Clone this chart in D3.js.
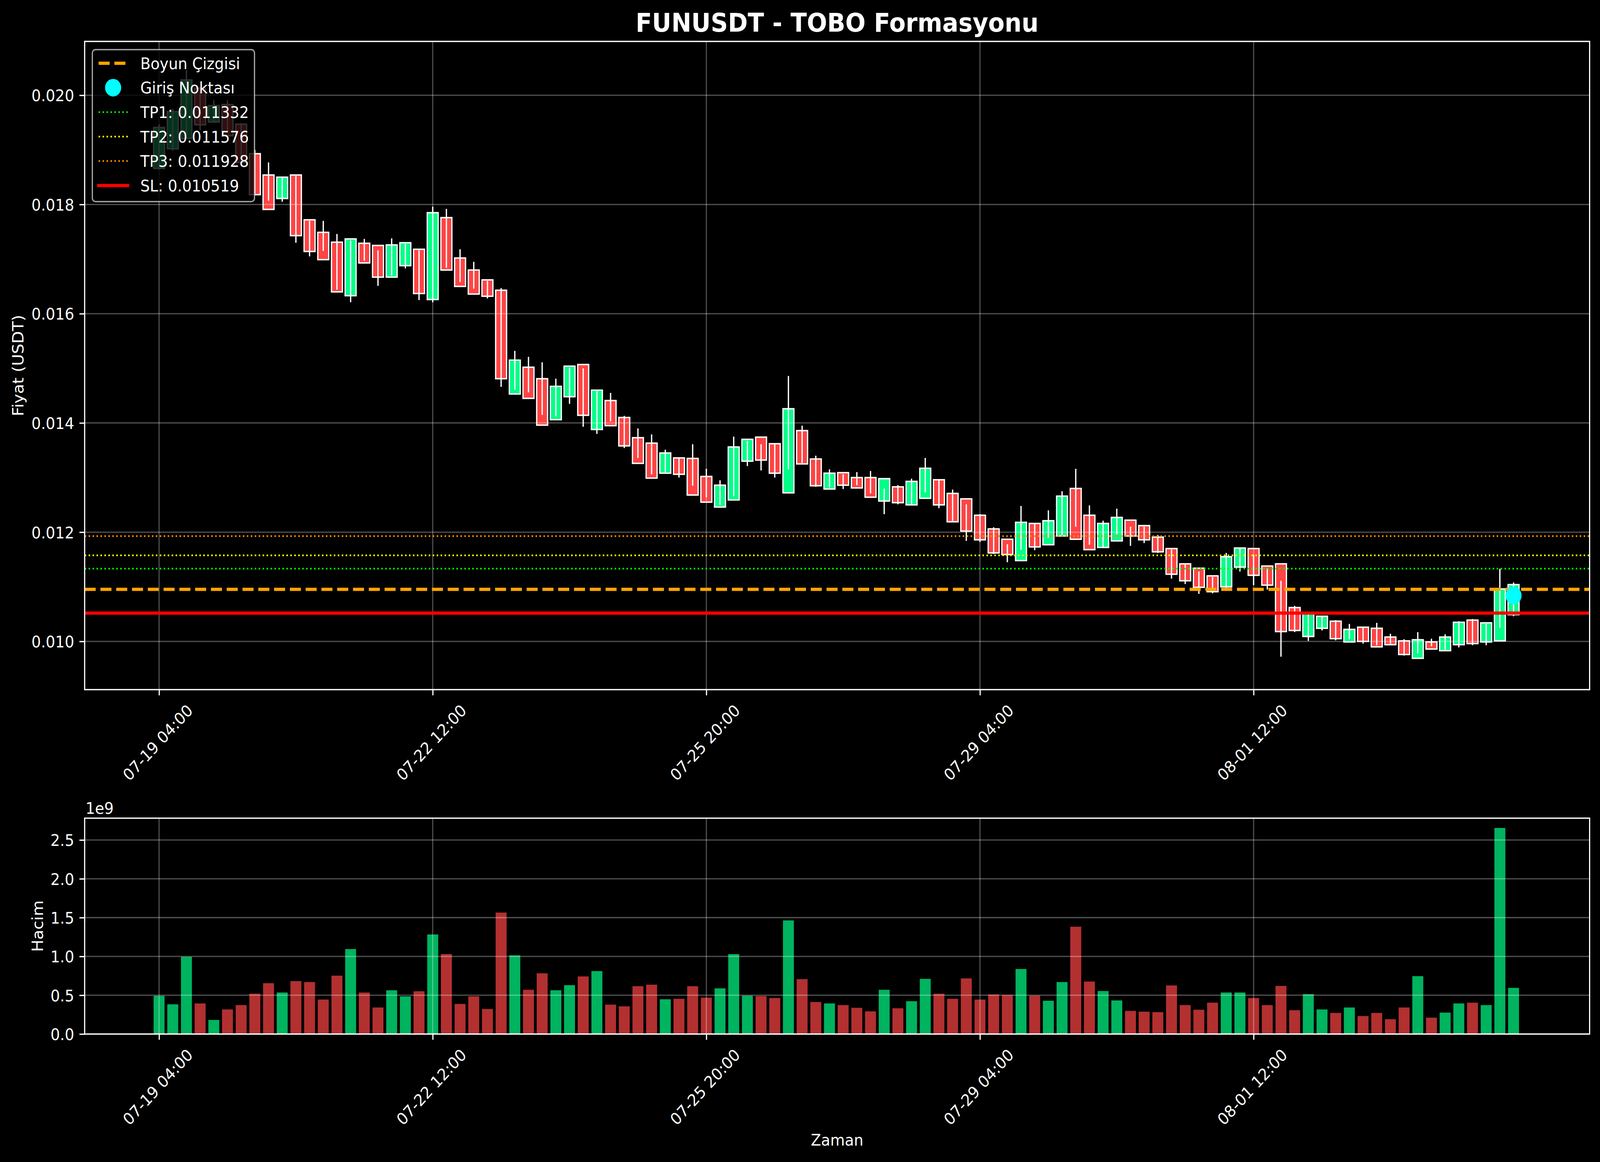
<!DOCTYPE html>
<html><head><meta charset="utf-8">
<script src="https://cdn.jsdelivr.net/npm/d3@7"></script>
<style>
html,body{margin:0;padding:0;background:#000;overflow:hidden;width:100%;height:100%;}
svg{display:block;width:100vw;height:100vh;}
text{font-family:"DejaVu Sans",sans-serif;fill:#fff;}
</style>
</head><body>
<svg id="chart" viewBox="0 0 4470 2974" preserveAspectRatio="none"></svg>
<script>
// ---------------- DATA ----------------
const startTime = "2025-07-19T04:00:00Z";
const intervalHours = 4;

const openP = [0.01866,0.01902,0.01921,0.02013,0.01951,0.01983,0.01947,0.01893,0.01854,0.01811,
0.01854,0.01772,0.01749,0.01731,0.01633,0.01729,0.01725,0.01667,0.01688,0.01718,
0.01626,0.01776,0.01702,0.01680,0.01662,0.01643,0.01453,0.01502,0.01481,0.01406,
0.01448,0.01507,0.01388,0.01441,0.01410,0.01373,0.01363,0.01308,0.01336,0.01335,
0.01302,0.01246,0.01259,0.01330,0.01374,0.01362,0.01272,0.01386,0.01334,0.01279,
0.01309,0.01300,0.01300,0.01257,0.01283,0.01250,0.01262,0.01296,0.01271,0.01261,
0.01231,0.01206,0.01187,0.01148,0.01216,0.01177,0.01193,0.01280,0.01231,0.01172,
0.01184,0.01222,0.01212,0.01191,0.01170,0.01142,0.01134,0.01120,0.01100,0.01136,
0.01170,0.01138,0.01142,0.01062,0.01009,0.01024,0.01037,0.00999,0.01026,0.01024,
0.01008,0.01001,0.00969,0.00999,0.00983,0.00994,0.01039,0.00999,0.01001,0.01049];

const highP = [0.01947,0.01975,0.02046,0.02013,0.01991,0.01991,0.01949,0.01900,0.01877,0.01848,
0.01852,0.01770,0.01770,0.01746,0.01734,0.01737,0.01716,0.01738,0.01728,0.01716,
0.01796,0.01792,0.01718,0.01695,0.01660,0.01647,0.01532,0.01521,0.01511,0.01481,
0.01501,0.01500,0.01458,0.01455,0.01413,0.01390,0.01379,0.01351,0.01336,0.01361,
0.01316,0.01295,0.01375,0.01367,0.01361,0.01361,0.01486,0.01395,0.01340,0.01315,
0.01306,0.01310,0.01312,0.01280,0.01286,0.01298,0.01336,0.01296,0.01278,0.01251,
0.01233,0.01209,0.01178,0.01248,0.01217,0.01240,0.01275,0.01316,0.01249,0.01221,
0.01243,0.01210,0.01210,0.01195,0.01168,0.01141,0.01128,0.01118,0.01162,0.01171,
0.01159,0.01134,0.01111,0.01065,0.01051,0.01046,0.01039,0.01032,0.01025,0.01034,
0.01014,0.01004,0.01017,0.01005,0.01013,0.01037,0.01041,0.01032,0.01133,0.01108];

const lowP = [0.01864,0.01898,0.01921,0.01936,0.01951,0.01931,0.01877,0.01820,0.01807,0.01805,
0.01730,0.01705,0.01715,0.01644,0.01621,0.01697,0.01651,0.01670,0.01683,0.01625,
0.01621,0.01684,0.01658,0.01646,0.01628,0.01466,0.01461,0.01456,0.01415,0.01412,
0.01435,0.01393,0.01380,0.01403,0.01354,0.01336,0.01306,0.01310,0.01300,0.01285,
0.01264,0.01250,0.01266,0.01321,0.01313,0.01300,0.01315,0.01327,0.01283,0.01282,
0.01279,0.01286,0.01271,0.01233,0.01251,0.01252,0.01273,0.01244,0.01221,0.01184,
0.01182,0.01160,0.01145,0.01168,0.01167,0.01190,0.01195,0.01210,0.01177,0.01171,
0.01196,0.01175,0.01180,0.01162,0.01115,0.01105,0.01087,0.01088,0.01098,0.01128,
0.01103,0.01095,0.00972,0.01017,0.01001,0.01020,0.01002,0.01004,0.00996,0.00993,
0.00996,0.00974,0.00978,0.00991,0.00985,0.00989,0.00993,0.00993,0.01025,0.01046];

const closeP = [0.01941,0.01970,0.02028,0.01946,0.01981,0.01926,0.01877,0.01818,0.01791,0.01850,
0.01743,0.01714,0.01699,0.01640,0.01737,0.01693,0.01667,0.01726,0.01730,0.01637,
0.01785,0.01680,0.01650,0.01636,0.01632,0.01481,0.01515,0.01445,0.01396,0.01467,
0.01504,0.01414,0.01460,0.01395,0.01358,0.01326,0.01299,0.01345,0.01306,0.01268,
0.01255,0.01286,0.01356,0.01370,0.01332,0.01308,0.01426,0.01325,0.01285,0.01308,
0.01286,0.01281,0.01264,0.01298,0.01254,0.01293,0.01317,0.01250,0.01219,0.01202,
0.01186,0.01162,0.01159,0.01218,0.01173,0.01221,0.01266,0.01187,0.01168,0.01216,
0.01227,0.01193,0.01186,0.01164,0.01123,0.01111,0.01099,0.01091,0.01155,0.01171,
0.01121,0.01103,0.01018,0.01020,0.01051,0.01046,0.01005,0.01022,0.01000,0.00990,
0.00994,0.00976,0.01003,0.00986,0.01008,0.01035,0.00996,0.01034,0.01096,0.01104];

const volume = [0.493e9,0.383e9,0.995e9,0.394e9,0.182e9,0.317e9,0.373e9,0.520e9,0.655e9,0.535e9,
0.682e9,0.670e9,0.444e9,0.752e9,1.095e9,0.535e9,0.342e9,0.564e9,0.485e9,0.551e9,
1.283e9,1.030e9,0.388e9,0.485e9,0.323e9,1.565e9,1.014e9,0.570e9,0.782e9,0.564e9,
0.630e9,0.742e9,0.811e9,0.379e9,0.357e9,0.616e9,0.636e9,0.448e9,0.454e9,0.616e9,
0.469e9,0.589e9,1.030e9,0.495e9,0.489e9,0.464e9,1.464e9,0.707e9,0.413e9,0.394e9,
0.373e9,0.338e9,0.292e9,0.570e9,0.332e9,0.423e9,0.711e9,0.520e9,0.454e9,0.717e9,
0.444e9,0.510e9,0.504e9,0.838e9,0.495e9,0.429e9,0.670e9,1.383e9,0.676e9,0.554e9,
0.433e9,0.298e9,0.288e9,0.282e9,0.626e9,0.373e9,0.313e9,0.404e9,0.535e9,0.535e9,
0.464e9,0.373e9,0.620e9,0.307e9,0.514e9,0.317e9,0.272e9,0.342e9,0.232e9,0.272e9,
0.191e9,0.342e9,0.746e9,0.211e9,0.276e9,0.394e9,0.404e9,0.373e9,2.655e9,0.595e9];

const xTickLabels = ["07-19 04:00","07-22 12:00","07-25 20:00","07-29 04:00","08-01 12:00"];
const priceTicks = [0.010,0.012,0.014,0.016,0.018,0.020];
const volumeTicks = [0,0.5e9,1.0e9,1.5e9,2.0e9,2.5e9];

const neckline = 0.010953;
const entryIndex = 99;
const entryPrice = 0.010841;
const levelNames = ["TP1","TP2","TP3","SL"];
const levelValues = [0.011332,0.011576,0.011928,0.010519];
const levelColors = ["#00ff00","#ffff00","#ff8c00","#ff0000"];

const titleText = "FUNUSDT - TOBO Formasyonu";

// ---------------- LAYOUT ----------------
const svg = d3.select("#chart");
svg.append("rect").attr("width",4470).attr("height",2974).attr("fill","#000");

const P = {l:236.5, r:4441, t:106, b:1765};
const V = {l:236.5, r:4441, t:2094, b:2646.5};
const FS = 41.7;
const LW = 3.3;
const green = "#00ff88", red = "#ff4444";

const H = 3600e3*intervalHours;
const t0 = new Date(startTime).getTime();
const dates = openP.map((_,i)=>new Date(t0 + i*H));

const x = d3.scaleUtc().domain([new Date(t0 - 5.44*H), new Date(t0 + 104.56*H)]).range([P.l, P.r]);
const yP = d3.scaleLinear().domain([0.009117, 0.020986]).range([P.b, P.t]);
const yV = d3.scaleLinear().domain([0, 2.781e9]).range([V.b, V.t]);

const parseT = d3.utcParse("%Y-%m-%d %H:%M");
const tickDates = xTickLabels.map(s=>parseT("2025-"+s));
const fmtT = d3.utcFormat("%m-%d %H:%M");

const bw = x(new Date(t0 + 0.4*H)) - x(new Date(t0 - 0.4*H));
const isUp = i => closeP[i] >= openP[i];

// ---------------- PRICE PANEL ----------------
const gP = svg.append("g");

gP.append("g").selectAll("rect").data(dates).join("rect")
  .attr("x",(d)=>x(d)-bw/2)
  .attr("y",(d,i)=>yP(Math.max(openP[i],closeP[i])))
  .attr("width",bw)
  .attr("height",(d,i)=>Math.max(1,Math.abs(yP(openP[i])-yP(closeP[i]))))
  .attr("fill",(d,i)=>isUp(i)?green:red)
  .attr("stroke","#fff").attr("stroke-width",3.6);

function grid(g, panel, yScale, yTicks){
  const gg = g.append("g").attr("stroke","#fff").attr("stroke-opacity",0.3).attr("stroke-width",LW);
  gg.selectAll("line.v").data(tickDates).join("line").attr("class","v")
    .attr("x1",d=>x(d)).attr("x2",d=>x(d)).attr("y1",panel.t).attr("y2",panel.b);
  gg.selectAll("line.h").data(yTicks).join("line").attr("class","h")
    .attr("x1",panel.l).attr("x2",panel.r).attr("y1",d=>yScale(d)).attr("y2",d=>yScale(d));
}
grid(gP, P, yP, priceTicks);

gP.append("g").selectAll("line").data(dates).join("line")
  .attr("x1",d=>x(d)).attr("x2",d=>x(d))
  .attr("y1",(d,i)=>yP(highP[i])).attr("y2",(d,i)=>yP(lowP[i]))
  .attr("stroke","#fff").attr("stroke-width",3.6);

gP.append("line").attr("x1",P.l).attr("x2",P.r).attr("y1",yP(neckline)).attr("y2",yP(neckline))
  .attr("stroke","#ffa500").attr("stroke-width",8.3).attr("stroke-dasharray","30.8,13.3");
levelValues.forEach((v,k)=>{
  const ln = gP.append("line").attr("x1",P.l).attr("x2",P.r).attr("y1",yP(v)).attr("y2",yP(v))
    .attr("stroke",levelColors[k]);
  if(levelNames[k]==="SL") ln.attr("stroke-width",8.3);
  else ln.attr("stroke-width",4.17).attr("stroke-dasharray","4.17,6.88");
});

gP.append("circle").attr("cx",x(dates[entryIndex])).attr("cy",yP(entryPrice)).attr("r",22.5).attr("fill","#00ffff");

gP.append("rect").attr("x",P.l).attr("y",P.t).attr("width",P.r-P.l).attr("height",P.b-P.t)
  .attr("fill","none").attr("stroke","#fff").attr("stroke-width",LW);

function styleAxis(ax){
  ax.attr("color","#fff").attr("font-size",FS).attr("font-family","DejaVu Sans");
  ax.select(".domain").remove();
  ax.selectAll(".tick line").attr("stroke-width",LW);
  ax.selectAll(".tick text").attr("dy","0.36em");
}
const axP = gP.append("g").attr("transform",`translate(${P.l},0)`)
  .call(d3.axisLeft(yP).tickValues(priceTicks).tickFormat(d3.format(".3f")).tickSize(14.6).tickPadding(14.6));
styleAxis(axP);

function xAxis(g, panel){
  const ax = g.append("g").attr("transform",`translate(0,${panel.b})`)
    .call(d3.axisBottom(x).tickValues(tickDates).tickFormat(fmtT).tickSize(14.6).tickPadding(14.6));
  ax.attr("color","#fff").attr("font-size",FS).attr("font-family","DejaVu Sans");
  ax.select(".domain").remove();
  ax.selectAll(".tick line").attr("stroke-width",LW);
  ax.selectAll(".tick text").each(function(){
    const t = d3.select(this);
    t.attr("y",null).attr("dy",null).attr("text-anchor","middle").attr("dominant-baseline","central");
    const L = this.getComputedTextLength();
    const half = (L - 4 + 30)/(2*Math.SQRT2);
    t.attr("transform",`translate(-4,${36.5+half}) rotate(-45)`);
  });
}
xAxis(gP, P);

const lg = gP.append("g");
lg.append("rect").attr("x",258).attr("y",127).attr("width",453).attr("height",389).attr("rx",9)
  .attr("fill","#000").attr("fill-opacity",0.8)
  .attr("stroke","#cccccc").attr("stroke-opacity",0.8).attr("stroke-width",3.5);
const legendRows = [
  {label:"Boyun Çizgisi", type:"dash", color:"#ffa500"},
  {label:"Giriş Noktası", type:"dot", color:"#00ffff"},
  {label:`${levelNames[0]}: ${levelValues[0].toFixed(6)}`, type:"dotted", color:levelColors[0]},
  {label:`${levelNames[1]}: ${levelValues[1].toFixed(6)}`, type:"dotted", color:levelColors[1]},
  {label:`${levelNames[2]}: ${levelValues[2].toFixed(6)}`, type:"dotted", color:levelColors[2]},
  {label:`${levelNames[3]}: ${levelValues[3].toFixed(6)}`, type:"solid", color:levelColors[3]}
];
legendRows.forEach((r,k)=>{
  const by = 176.8 + 62.6*k, cy = by - 15;
  if(r.type==="dash"){
    lg.append("line").attr("x1",275.5).attr("x2",357).attr("y1",cy).attr("y2",cy)
      .attr("stroke",r.color).attr("stroke-width",8.3).attr("stroke-dasharray","30.8,13.3");
  } else if(r.type==="dot"){
    lg.append("circle").attr("cx",316).attr("cy",cy).attr("r",22.5).attr("fill",r.color);
  } else if(r.type==="dotted"){
    lg.append("line").attr("x1",275.5).attr("x2",357).attr("y1",cy).attr("y2",cy)
      .attr("stroke",r.color).attr("stroke-width",4.17).attr("stroke-dasharray","4.17,6.88");
  } else {
    lg.append("line").attr("x1",275.5).attr("x2",357).attr("y1",cy).attr("y2",cy)
      .attr("stroke",r.color).attr("stroke-width",8.3).attr("stroke-linecap","square");
  }
  lg.append("text").attr("x",392).attr("y",by).attr("font-size",FS).text(r.label);
});

svg.append("text").attr("x",(P.l+P.r)/2).attr("y",81).attr("text-anchor","middle")
  .attr("font-size",66.7).attr("font-weight","bold").text(titleText);
svg.append("text").attr("transform",`translate(66,${(P.t+P.b)/2}) rotate(-90)`)
  .attr("text-anchor","middle").attr("font-size",FS).text("Fiyat (USDT)");

// ---------------- VOLUME PANEL ----------------
const gV = svg.append("g");
gV.append("g").selectAll("rect").data(dates).join("rect")
  .attr("x",d=>x(d)-bw/2)
  .attr("y",(d,i)=>yV(volume[i]))
  .attr("width",bw)
  .attr("height",(d,i)=>yV(0)-yV(volume[i]))
  .attr("fill",(d,i)=>isUp(i)?green:red).attr("fill-opacity",0.7);
grid(gV, V, yV, volumeTicks);
gV.append("rect").attr("x",V.l).attr("y",V.t).attr("width",V.r-V.l).attr("height",V.b-V.t)
  .attr("fill","none").attr("stroke","#fff").attr("stroke-width",LW);
const axV = gV.append("g").attr("transform",`translate(${V.l},0)`)
  .call(d3.axisLeft(yV).tickValues(volumeTicks).tickFormat(d=>(d/1e9).toFixed(1)).tickSize(14.6).tickPadding(14.6));
styleAxis(axV);
xAxis(gV, V);
gV.append("text").attr("x",239).attr("y",2083).attr("font-size",FS).text("1e9");
gV.append("text").attr("transform",`translate(120,${(V.t+V.b)/2}) rotate(-90)`)
  .attr("text-anchor","middle").attr("font-size",FS).text("Hacim");
svg.append("text").attr("x",(V.l+V.r)/2).attr("y",2932).attr("text-anchor","middle")
  .attr("font-size",FS).text("Zaman");
</script>
</body></html>
